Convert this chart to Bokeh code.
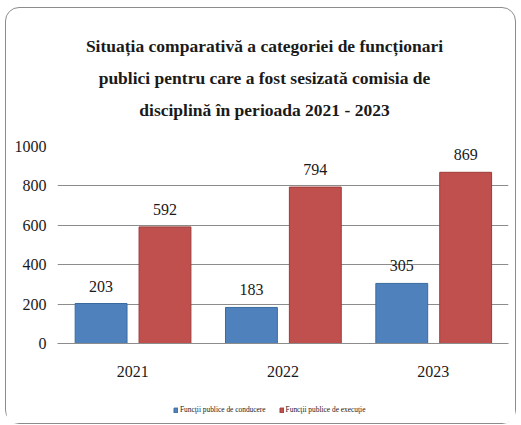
from bokeh.plotting import figure
from bokeh.layouts import column
from bokeh.models import (ColumnDataSource, FactorRange, Range1d, FixedTicker, LabelSet,
                          Div, Legend, LegendItem)
from bokeh.transform import dodge
from bokeh.embed import file_html
from bokeh.resources import INLINE

years = ["2021", "2022", "2023"]
conducere = [203, 183, 305]
executie = [592, 794, 869]
y_ticks = [0, 200, 400, 600, 800, 1000]
title_lines = [
    "Situația comparativă a categoriei de funcționari",
    "publici pentru care a fost sesizată comisia de",
    "disciplină în perioada 2021 - 2023",
]
series_names = ["Funcţii publice de conducere", "Funcţii publice de execuţie"]

BLUE = "#4F81BD"
RED = "#C0504D"
BLUE_EDGE = "#3A6B9F"
RED_EDGE = "#9E3B38"
SERIF = "Liberation Serif"
W = 509

# ---- title block
title_html = (
    "<div style=\"width:%dpx;box-sizing:border-box;padding-top:22px;padding-left:8px;"
    "text-align:center;font-family:'Liberation Serif',serif;font-weight:bold;"
    "font-size:17.5px;line-height:32px;color:#1a1a1a;\">%s</div>"
    % (W, "<br>".join(title_lines))
)
title_div = Div(text=title_html, width=W, height=120, margin=0)

# ---- main chart
src = ColumnDataSource(dict(
    year=years, cond=conducere, exe=executie,
    cond_t=[str(v) for v in conducere], exe_t=[str(v) for v in executie],
))

p = figure(x_range=FactorRange(*years), y_range=Range1d(0, 1000),
           width=W, height=263, output_backend="svg", toolbar_location=None,
           min_border_left=51, min_border_right=7, min_border_top=18, min_border_bottom=48)
p.outline_line_color = None
p.background_fill_color = "white"
p.border_fill_color = "white"

r1 = p.vbar(x=dodge("year", -0.21, range=p.x_range), top="cond", width=0.345, source=src,
            fill_color=BLUE, line_color=BLUE_EDGE, line_width=1)
r2 = p.vbar(x=dodge("year", 0.215, range=p.x_range), top="exe", width=0.345, source=src,
            fill_color=RED, line_color=RED_EDGE, line_width=1)

for col, off in (("cond", -0.21), ("exe", 0.215)):
    p.add_layout(LabelSet(x=dodge("year", off, range=p.x_range), y=col, text=col + "_t",
                          source=src, text_align="center", text_baseline="bottom", y_offset=12,
                          text_font=SERIF, text_font_size="16px", text_color="#1a1a1a"))

p.yaxis.ticker = FixedTicker(ticks=y_ticks)
p.yaxis.axis_line_color = None
p.yaxis.major_tick_line_color = None
p.yaxis.major_tick_out = 0
p.yaxis.major_tick_in = 0
p.yaxis.minor_tick_line_color = None
p.yaxis.major_label_standoff = 11
p.yaxis.major_label_text_font = SERIF
p.yaxis.major_label_text_font_size = "16px"
p.yaxis.major_label_text_color = "#1a1a1a"

p.xaxis.axis_line_color = "#8c8c8c"
p.xaxis.major_tick_line_color = None
p.xaxis.major_tick_out = 0
p.xaxis.major_tick_in = 0
p.xaxis.minor_tick_line_color = None
p.xaxis.major_label_standoff = 22
p.xaxis.major_label_text_font = SERIF
p.xaxis.major_label_text_font_size = "16px"
p.xaxis.major_label_text_color = "#1a1a1a"

p.xgrid.grid_line_color = None
p.ygrid.grid_line_color = "#8c8c8c"
p.ygrid.grid_line_width = 1

# ---- legend strip: swatch renderers use the same data, but lie far outside this strip's view
lf = figure(width=W, height=32, output_backend="svg", toolbar_location=None,
            x_axis_location=None, y_axis_location=None,
            x_range=FactorRange(*years), y_range=Range1d(100000, 100001),
            min_border_left=0, min_border_right=0, min_border_top=0, min_border_bottom=0)
lf.outline_line_color = None
lf.grid.visible = False
lf.background_fill_color = "white"
lf.border_fill_color = "white"
s1 = lf.vbar(x="year", top="cond", width=0.3, source=src, fill_color=BLUE, line_color=BLUE_EDGE)
s2 = lf.vbar(x="year", top="exe", width=0.3, source=src, fill_color=RED, line_color=RED_EDGE)
legend = Legend(items=[LegendItem(label=series_names[0], renderers=[s1]),
                       LegendItem(label=series_names[1], renderers=[s2])],
                orientation="horizontal", location=(116, 9),
                glyph_width=5, glyph_height=6, label_standoff=2, spacing=13,
                padding=0, margin=0, border_line_color=None, background_fill_alpha=0,
                label_text_font=SERIF, label_text_font_size="7.4px", label_height=8,
                label_text_color="#1a1a1a")
lf.add_layout(legend)

layout = column(title_div, p, lf, spacing=0,
                styles={"border": "1px solid #8c8c8c", "border-radius": "14px",
                        "margin-left": "5px", "margin-top": "7px", "background": "white"})

open("out.html", "w").write(file_html(layout, INLINE))
